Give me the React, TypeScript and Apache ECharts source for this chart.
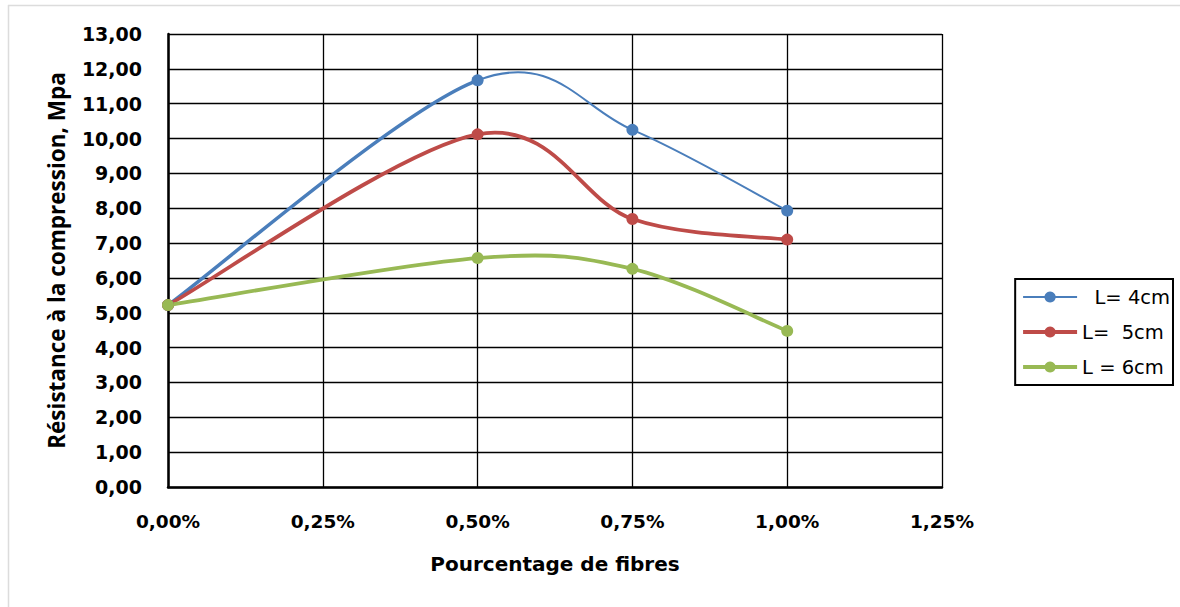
import React, { useEffect, useRef } from "react";
import * as echarts from "echarts";

const xValues = [0, 0.5, 0.75, 1.0];
const seriesNames = ["  L= 4cm", "L=  5cm", "L = 6cm"];
const blueValues = [5.22, 11.67, 10.25, 7.93];
const redValues = [5.22, 10.12, 7.69, 7.1];
const greenValues = [5.22, 6.57, 6.26, 4.48];
const colors = ["#4a7ebb", "#be4b48", "#98b954"];
// per-segment widths (the blue curve is thicker on its first segment)
const segmentWidths = [
  [3.5, 2, 2],
  [3.8, 3.8, 3.8],
  [3.8, 3.8, 3.8],
];
const legendWidths = [2, 3.8, 3.8];

const fmtNum = (v: number) => v.toFixed(2).replace(".", ",");

export default function App() {
  const ref = useRef<HTMLDivElement>(null);
  useEffect(() => {
    if (!ref.current) return;
    const chart = echarts.init(ref.current, undefined, { renderer: "svg" });
    const all = [blueValues, redValues, greenValues];
    const wide = "'DejaVu Sans', sans-serif";
    const narrow = "'Open Sans', Lato, sans-serif";

    const curveSeries = all.map((vals, i) => ({
      name: "curve" + i,
      type: "custom",
      coordinateSystem: "cartesian2d",
      z: 2,
      silent: true,
      data: xValues.map((x, j) => [x, vals[j]]),
      renderItem: (params: any, api: any) => {
        if (params.dataIndex !== 0) return null;
        const pts = xValues.map((x, j) => api.coord([x, vals[j]]));
        const n = pts.length;
        const children: any[] = [];
        for (let k = 0; k < n - 1; k++) {
          const p0 = pts[Math.max(k - 1, 0)];
          const p1 = pts[k];
          const p2 = pts[k + 1];
          const p3 = pts[Math.min(k + 2, n - 1)];
          children.push({
            type: "bezierCurve",
            shape: {
              x1: p1[0],
              y1: p1[1],
              cpx1: p1[0] + (p2[0] - p0[0]) / 6,
              cpy1: p1[1] + (p2[1] - p0[1]) / 6,
              cpx2: p2[0] - (p3[0] - p1[0]) / 6,
              cpy2: p2[1] - (p3[1] - p1[1]) / 6,
              x2: p2[0],
              y2: p2[1],
            },
            style: {
              fill: "none",
              stroke: colors[i],
              lineWidth: segmentWidths[i][k],
              lineCap: "round",
            },
          });
        }
        return { type: "group", children };
      },
    }));

    const markerSeries = seriesNames.map((name, i) => ({
      name,
      type: "line",
      symbol: "circle",
      symbolSize: 12,
      color: colors[i],
      z: 3,
      lineStyle: { color: colors[i], width: legendWidths[i], opacity: 0 },
      itemStyle: { color: colors[i] },
      data: xValues.map((x, j) => [x, all[i][j]]),
    }));

    chart.setOption({
      animation: false,
      backgroundColor: "#ffffff",
      textStyle: { fontFamily: wide },
      graphic: [
        { type: "line", shape: { x1: 8, y1: 5.5, x2: 1180, y2: 5.5 }, style: { stroke: "#dcdcdc", lineWidth: 1.5 } },
        { type: "line", shape: { x1: 8.5, y1: 5, x2: 8.5, y2: 607 }, style: { stroke: "#dcdcdc", lineWidth: 1.5 } },
      ],
      grid: { left: 168, right: 238, top: 34, bottom: 120, containLabel: false },
      legend: {
        orient: "vertical",
        right: 7,
        top: 279,
        borderColor: "#000",
        borderWidth: 2,
        borderRadius: 0,
        padding: [8, 3, 8, 6],
        itemGap: 15,
        itemWidth: 54,
        itemHeight: 14,
        textStyle: { fontFamily: wide, fontSize: 19.5, color: "#000" },
        data: seriesNames.map((name, i) => ({
          name,
          lineStyle: { opacity: 1, width: legendWidths[i], color: colors[i] },
          itemStyle: { color: colors[i] },
        })),
      },
      xAxis: {
        type: "value",
        min: 0,
        max: 1.25,
        interval: 0.25,
        name: "Pourcentage de fibres",
        nameLocation: "middle",
        nameGap: 67,
        nameTextStyle: { fontFamily: wide, fontWeight: "bold", fontSize: 20, color: "#000" },
        axisLine: { show: true, onZero: false, lineStyle: { color: "#000", width: 2.5 } },
        axisTick: { show: false },
        axisLabel: {
          margin: 25,
          fontFamily: wide,
          fontWeight: "bold",
          fontSize: 18.5,
          color: "#000",
          formatter: (v: number) => fmtNum(v) + "%",
        },
        splitLine: { show: true, lineStyle: { color: "#000", width: 1.3 } },
      },
      yAxis: {
        type: "value",
        min: 0,
        max: 13,
        interval: 1,
        name: "Résistance à la compression, Mpa",
        nameLocation: "middle",
        nameGap: 100,
        nameRotate: 90,
        nameTextStyle: { fontFamily: narrow, fontWeight: "bold", fontSize: 22.5, color: "#000" },
        axisLine: { show: true, lineStyle: { color: "#000", width: 2.5 } },
        axisTick: { show: false },
        axisLabel: {
          margin: 26,
          fontFamily: wide,
          fontWeight: "bold",
          fontSize: 19,
          color: "#000",
          formatter: (v: number) => fmtNum(v),
        },
        splitLine: { show: true, lineStyle: { color: "#000", width: 1.3 } },
      },
      series: [...curveSeries, ...markerSeries],
    });
    return () => chart.dispose();
  }, []);
  return (
    <div
      ref={ref}
      style={{ position: "absolute", left: 0, top: 0, width: 1180, height: 607 }}
    />
  );
}
